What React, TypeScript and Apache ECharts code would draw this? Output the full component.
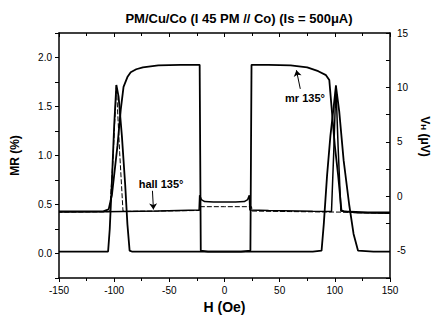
import React, { useEffect, useRef } from "react";
import * as echarts from "echarts";

const TITLE = "PM/Cu/Co (I 45 PM // Co) (Is = 500\u03bcA)";
const X_NAME = "H (Oe)";
const LEFT_NAME = "MR (%)";

// MR traces (left axis, %)
const mrUpH = [-150, -110, -105, -102, -100, -97, -94, -91.5, -88, -85, -80, -74, -60, -40, -22.5, -22, -21.5, -15, 0, 20, 50, 80, 88, 90, 93, 96, 99, 101, 104, 108, 113, 117, 121, 135, 150];
const mrUpV = [0.43, 0.43, 0.45, 0.6, 0.8, 1.1, 1.47, 1.7, 1.8, 1.85, 1.88, 1.9, 1.92, 1.925, 1.925, 1.0, 0.03, 0.02, 0.02, 0.02, 0.02, 0.02, 0.03, 0.3, 0.8, 1.2, 1.5, 1.71, 1.45, 0.95, 0.5, 0.2, 0.03, 0.02, 0.02];

const mrDownH = [150, 130, 108, 106, 103, 100, 97, 95, 92, 85, 75, 60, 40, 24.5, 24, 23.5, 15, 0, -20, -50, -84, -86, -88, -90, -93, -96, -98, -100, -102, -104, -105.5, -120, -150];
const mrDownV = [0.42, 0.42, 0.43, 0.44, 0.8, 1.1, 1.5, 1.77, 1.82, 1.86, 1.9, 1.92, 1.925, 1.925, 1.0, 0.03, 0.02, 0.02, 0.02, 0.02, 0.02, 0.03, 0.3, 0.7, 1.2, 1.6, 1.72, 1.3, 0.75, 0.25, 0.02, 0.02, 0.02];

// Hall traces (right axis, μV)
const hallUpH = [-150, -110, -60, -23, -22.5, -21, -18, -10, 0, 10, 18, 21, 22.5, 23, 40, 80, 97, 99, 101, 103, 105.5, 120, 150];
const hallUpV = [-1.45, -1.42, -1.35, -1.25, 0.1, -0.3, -0.48, -0.52, -0.52, -0.52, -0.48, -0.3, 0.1, -1.25, -1.3, -1.38, -1.4, 4.0, 10.2, 4.5, -1.35, -1.5, -1.55];

const hallDownH = [150, 120, 106, 60, 25, 24.5, 0, -22, -22.5, -60, -88, -92, -95, -98, -101, -104, -110, -150];
const hallDownV = [-1.55, -1.5, -1.45, -1.4, -1.35, -0.95, -0.95, -0.95, -1.3, -1.35, -1.38, -1.35, 4.0, 10.2, 3.5, -1.4, -1.42, -1.45];

const leftLabelValues = [0, 0.5, 1.0, 1.5, 2.0];
const rightLabelValues = [-5, 0, 5, 10, 15];

const pair = (xs: number[], ys: number[]) => xs.map((x, i) => [x, ys[i]]);
const FONT = "'Liberation Sans', Arial, sans-serif";

export default function App() {
  const ref = useRef<HTMLDivElement>(null);
  useEffect(() => {
    if (!ref.current) return;
    const chart = echarts.init(ref.current, undefined, { renderer: "svg" });
    const axisLine = { show: true, onZero: false, lineStyle: { color: "#000", width: 1.5 } };
    const lbl = { color: "#000", fontSize: 10, fontFamily: FONT };
    const lineSeries = (name: string, data: number[][], yIdx: number, width: number, type: any) => ({
      name,
      type: "line",
      yAxisIndex: yIdx,
      data,
      showSymbol: false,
      symbol: "none",
      silent: true,
      lineStyle: { color: "#000", width, type },
    });
    const option: any = {
      animation: false,
      backgroundColor: "#fff",
      textStyle: { fontFamily: FONT },
      title: {
        text: TITLE,
        left: 234,
        textAlign: "center",
        top: 7,
        textStyle: { fontSize: 13, fontWeight: "bold", color: "#000", fontFamily: FONT },
      },
      grid: { left: 59, right: 35, top: 33, bottom: 45 },
      xAxis: [
        {
          type: "value",
          min: -150,
          max: 150,
          interval: 50,
          position: "bottom",
          axisLine,
          axisTick: { show: true, inside: false, length: 4, lineStyle: { color: "#000", width: 1 } },
          minorTick: { show: true, splitNumber: 2, length: 3, lineStyle: { color: "#000", width: 1 } },
          axisLabel: { ...lbl, margin: 7 },
          splitLine: { show: false },
          minorSplitLine: { show: false },
          name: X_NAME,
          nameLocation: "middle",
          nameGap: 21,
          nameTextStyle: { fontSize: 14, fontWeight: "bold", color: "#000", fontFamily: FONT },
        },
        {
          type: "value",
          min: -150,
          max: 150,
          interval: 50,
          position: "top",
          axisLine,
          axisTick: { show: true, inside: true, length: 4, lineStyle: { color: "#000", width: 1 } },
          minorTick: { show: true, splitNumber: 2, length: 3, lineStyle: { color: "#000", width: 1 } },
          axisLabel: { show: false },
          splitLine: { show: false },
        },
      ],
      yAxis: [
        {
          type: "value",
          min: -0.25,
          max: 2.25,
          interval: 0.25,
          position: "left",
          axisLine,
          axisTick: { show: true, inside: false, length: 4, lineStyle: { color: "#000", width: 1 } },
          axisLabel: {
            ...lbl,
            margin: 7,
            formatter: (v: number) => (leftLabelValues.some((t) => Math.abs(t - v) < 1e-6) ? v.toFixed(1) : ""),
          },
          splitLine: { show: false },
          name: LEFT_NAME,
          nameLocation: "middle",
          nameRotate: 90,
          nameGap: 38,
          nameTextStyle: { fontSize: 12, fontWeight: "bold", color: "#000", fontFamily: FONT },
        },
        {
          type: "value",
          min: -7.5,
          max: 15,
          interval: 2.5,
          position: "right",
          axisLine,
          axisTick: { show: true, inside: true, length: 4, lineStyle: { color: "#000", width: 1 } },
          axisLabel: {
            ...lbl,
            margin: 7,
            formatter: (v: number) => (rightLabelValues.some((t) => Math.abs(t - v) < 1e-6) ? String(v) : ""),
          },
          splitLine: { show: false },
          name: "{v|V}{s|H}{v| (\u03bcV)}",
          nameLocation: "middle",
          nameRotate: -90,
          nameGap: 20,
          nameTextStyle: {
            color: "#000",
            fontFamily: FONT,
            padding: [0, 38, 0, 0],
            rich: {
              v: { fontSize: 12, fontWeight: "bold", color: "#000", fontFamily: FONT, lineHeight: 12, verticalAlign: "top" },
              s: { fontSize: 8, fontWeight: "bold", color: "#000", fontFamily: FONT, lineHeight: 8, padding: [6, 0, 0, 0], verticalAlign: "bottom" },
            },
          },
        },
      ],
      series: [
        {
          ...lineSeries("mr up", pair(mrUpH, mrUpV), 0, 1.8, "solid"),
          markPoint: {
            symbol: "circle",
            symbolSize: 0,
            silent: true,
            label: {
              show: true,
              position: "inside",
              color: "#000",
              fontSize: 11,
              fontWeight: "bold",
              fontFamily: FONT,
              formatter: (p: any) => p.name,
            },
            data: [
              { name: "hall 135\u00b0", coord: [-57.5, 0.71] },
              { name: "mr 135\u00b0", coord: [73, 1.59] },
            ],
          },
          markLine: {
            silent: true,
            symbol: ["none", "arrow"],
            symbolSize: 6,
            label: { show: false },
            lineStyle: { color: "#000", width: 1, type: "solid" },
            data: [
              [{ coord: [-65.3, 0.64] }, { coord: [-64.4, 0.45] }],
              [{ coord: [68.7, 1.68] }, { coord: [65.2, 1.87] }],
            ],
          },
        },
        lineSeries("mr down", pair(mrDownH, mrDownV), 0, 1.8, "solid"),
        lineSeries("hall up", pair(hallUpH, hallUpV), 1, 1.5, "solid"),
        lineSeries("hall down", pair(hallDownH, hallDownV), 1, 1, [5, 2]),
      ],
    };
    chart.setOption(option);
    return () => chart.dispose();
  }, []);
  return <div ref={ref} style={{ position: "absolute", left: 0, top: 0, width: 441, height: 323 }} />;
}
